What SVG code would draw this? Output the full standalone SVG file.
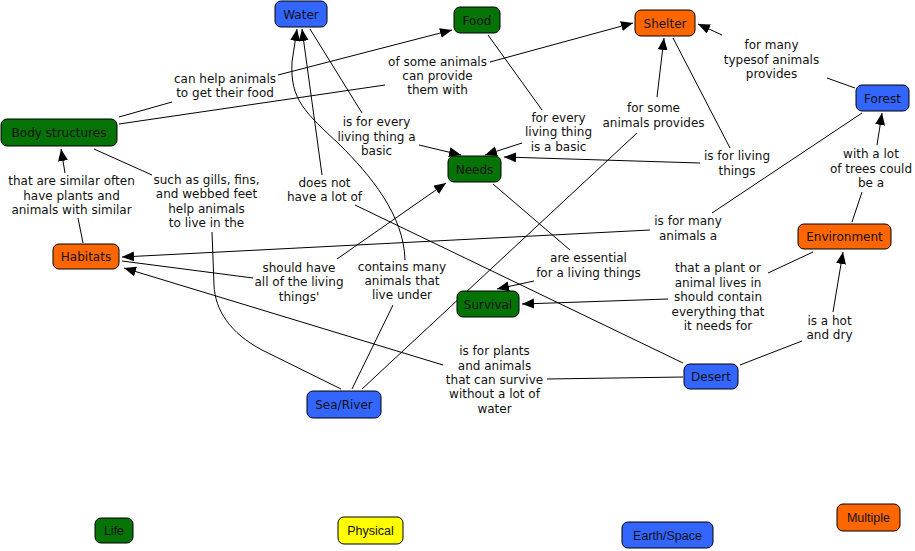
<svg xmlns="http://www.w3.org/2000/svg" width="915" height="551" viewBox="0 0 915 551">
<style>
.n rect{stroke:#000;stroke-width:1;}
.life rect{fill:#067306;}
.earth rect{fill:#3366ff;}
.multi rect{fill:#ff6600;}
.phys rect{fill:#ffff00;}
.n text{font-family:"DejaVu Sans",Verdana,sans-serif;font-size:12px;fill:#111;text-anchor:middle;}
.lg text{font-family:"Liberation Sans",Arial,sans-serif;font-size:12.5px;}
.lbl text{font-family:"DejaVu Sans",Verdana,sans-serif;font-size:12px;fill:#111;text-anchor:middle;}
.c path{fill:none;stroke:#000;stroke-width:1;}
.c path.a{marker-end:url(#ah);}
</style>
<defs>
<marker id="ah" markerUnits="userSpaceOnUse" markerWidth="13" markerHeight="11" refX="12" refY="5" orient="auto">
<path d="M0,0 L12,5 L0,10 z" fill="#000"/>
</marker>
</defs>
<rect width="915" height="551" fill="#fff"/>
<g id="connectors" class="c">
<path d="M119,117 L172,102"/><path class="a" d="M278,75 L452,30"/>
<path d="M119,124 L385,85"/><path class="a" d="M490,62 L633,23"/>
<path d="M310,29 L362,113"/><path class="a" d="M419,145 L461,155"/>
<path d="M488,35 L542,110"/><path class="a" d="M522,143 L485,155"/>
<path d="M673,38 L730,148"/><path class="a" d="M700,163 L504,157"/>
<path d="M855,88 L827,78"/><path class="a" d="M722,35 L698,24"/>
<path d="M362,389 L637,133"/><path class="a" d="M657,97 L664,38"/>
<path d="M862,113 L712,213"/><path class="a" d="M650,230 L122,257"/>
<path d="M852,222 L862,192"/><path class="a" d="M877,145 L882,113"/>
<path d="M813,252 L768,273"/><path class="a" d="M668,299 L522,304"/>
<path d="M740,365 L802,341"/><path class="a" d="M833,312 L843,252"/>
<path d="M683,377 L547,379"/><path class="a" d="M443,365 L124,268"/>
<path d="M683,363 L355,205"/><path class="a" d="M322,175 L302,29"/>
<path d="M352,389 L393,305"/><path class="a" d="M405,260 C404,215 370,175 340,145 C305,112 290,100 292,62 L297,29"/>
<path d="M341,389 L262,350 C230,333 215,310 214,285 L212,232"/><path d="M152,175 L94,149"/>
<path d="M83,243 L78,218"/><path class="a" d="M65,173 L61,149"/>
<path d="M122,261 L253,278"/><path class="a" d="M337,259 L446,183"/>
<path d="M493,184 L570,250"/><path class="a" d="M534,281 L497,289"/>
</g>
<g id="labels" class="lbl">
<text x="225" y="83">can help animals<tspan x="225" y="97">to get their food</tspan></text>
<text x="437.5" y="66">of some animals<tspan x="437.5" y="80">can provide</tspan><tspan x="437.5" y="94">them with</tspan></text>
<text x="376.5" y="126">is for every<tspan x="376.5" y="141">living thing a</tspan><tspan x="376.5" y="155">basic</tspan></text>
<text x="558.5" y="122">for every<tspan x="558.5" y="136">living thing</tspan><tspan x="558.5" y="151">is a basic</tspan></text>
<text x="653.5" y="112">for some<tspan x="653.5" y="127">animals provides</tspan></text>
<text x="737" y="160">is for living<tspan x="737" y="175">things</tspan></text>
<text x="771.5" y="49">for many<tspan x="771.5" y="64">typesof animals</tspan><tspan x="771.5" y="78">provides</tspan></text>
<text x="871" y="158">with a lot<tspan x="871" y="173">of trees could</tspan><tspan x="871" y="187">be a</tspan></text>
<text x="688" y="225">is for many<tspan x="688" y="240">animals a</tspan></text>
<text x="71.5" y="185">that are similar often<tspan x="71.5" y="200">have plants and</tspan><tspan x="71.5" y="214">animals with similar</tspan></text>
<text x="206.5" y="184">such as gills, fins,<tspan x="206.5" y="198">and webbed feet</tspan><tspan x="206.5" y="213">help animals</tspan><tspan x="206.5" y="227">to live in the</tspan></text>
<text x="324.5" y="187">does not<tspan x="324.5" y="201">have a lot of</tspan></text>
<text x="299" y="272">should have<tspan x="299" y="286">all of the living</tspan><tspan x="299" y="301">things'</tspan></text>
<text x="402" y="271">contains many<tspan x="402" y="285">animals that</tspan><tspan x="402" y="299">live under</tspan></text>
<text x="588.5" y="262">are essential<tspan x="588.5" y="277">for a living things</tspan></text>
<text x="718" y="272">that a plant or<tspan x="718" y="287">animal lives in</tspan><tspan x="718" y="301">should contain</tspan><tspan x="718" y="316">everything that</tspan><tspan x="718" y="330">it needs for</tspan></text>
<text x="829.5" y="325">is a hot<tspan x="829.5" y="339">and dry</tspan></text>
<text x="494.5" y="355">is for plants<tspan x="494.5" y="370">and animals</tspan><tspan x="494.5" y="384">that can survive</tspan><tspan x="494.5" y="398">without a lot of</tspan><tspan x="494.5" y="413">water</tspan></text>
</g>
<g id="water" class="n earth"><rect x="275" y="1" width="52" height="26" rx="6"/><text x="301" y="18.5">Water</text></g>
<g id="food" class="n life"><rect x="454" y="7" width="46" height="26" rx="6"/><text x="477" y="24.5">Food</text></g>
<g id="shelter" class="n multi"><rect x="635" y="10" width="60" height="26" rx="6"/><text x="665" y="27.5">Shelter</text></g>
<g id="forest" class="n earth"><rect x="856" y="85" width="53" height="26" rx="6"/><text x="882.5" y="102.5">Forest</text></g>
<g id="body-structures" class="n life"><rect x="1" y="119" width="116" height="27" rx="6"/><text x="59" y="137">Body structures</text></g>
<g id="needs" class="n life"><rect x="448" y="156" width="53" height="26" rx="6"/><text x="474.5" y="173.5">Needs</text></g>
<g id="habitats" class="n multi"><rect x="53" y="244" width="66" height="25" rx="6"/><text x="86" y="261">Habitats</text></g>
<g id="environment" class="n multi"><rect x="798" y="224" width="93" height="25" rx="6"/><text x="844.5" y="241">Environment</text></g>
<g id="survival" class="n life"><rect x="457" y="291" width="62" height="26" rx="6"/><text x="488" y="308.5">Survival</text></g>
<g id="desert" class="n earth"><rect x="684" y="364" width="54" height="25" rx="6"/><text x="711" y="381">Desert</text></g>
<g id="sea-river" class="n earth"><rect x="307" y="391" width="74" height="27" rx="6"/><text x="344" y="409">Sea/River</text></g>
<g id="legend-life" class="n life lg"><rect x="95" y="518" width="38" height="25" rx="6"/><text x="114" y="535">Life</text></g>
<g id="legend-physical" class="n phys lg"><rect x="338" y="517" width="65" height="27" rx="6"/><text x="370.5" y="535">Physical</text></g>
<g id="legend-earth" class="n earth lg"><rect x="622" y="522" width="91" height="26" rx="6"/><text x="667.5" y="539.5">Earth/Space</text></g>
<g id="legend-multiple" class="n multi lg"><rect x="837" y="504" width="63" height="27" rx="6"/><text x="868.5" y="522">Multiple</text></g>
</svg>
